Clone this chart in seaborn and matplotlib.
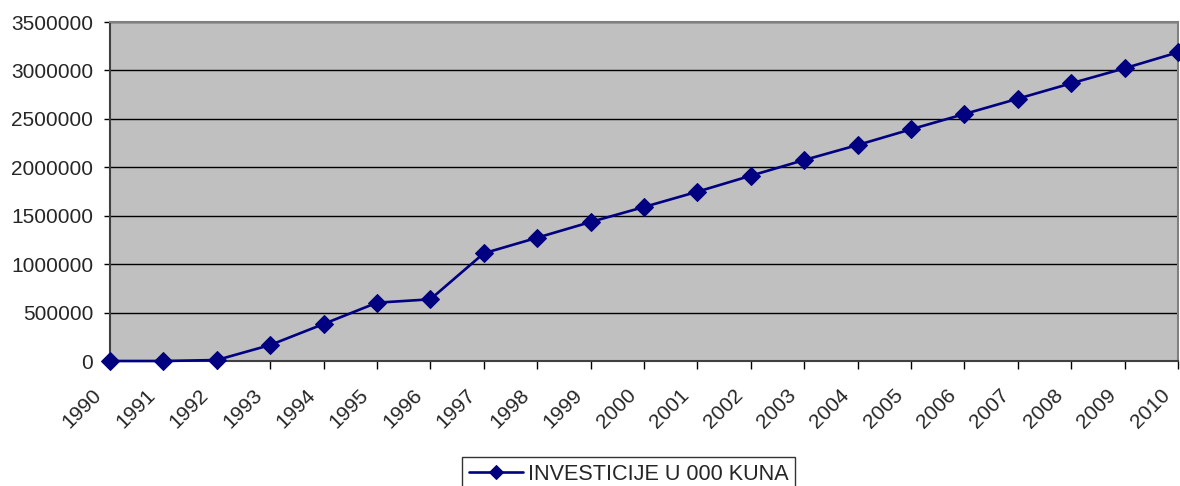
import numpy as np
import pandas as pd
import matplotlib
matplotlib.use("Agg")
import matplotlib.pyplot as plt
from matplotlib.transforms import ScaledTranslation
import seaborn as sns

# DATA
years = [str(y) for y in range(1990, 2011)]
investicije = [
    0, 0, 10000, 165000, 382000, 602000, 637000, 1112000, 1273000, 1435000,
    1590000, 1748000, 1913000, 2075000, 2230000, 2392000, 2550000, 2708000,
    2867000, 3022000, 3187000,
]
series_name = "INVESTICIJE U 000 KUNA"
y_ticks = [0, 500000, 1000000, 1500000, 2000000, 2500000, 3000000, 3500000]

df = pd.DataFrame({"godina": years, "vrijednost": investicije})
df["pos"] = np.arange(len(years))

sns.set_theme(style="white")
plt.rcParams["font.family"] = ["Liberation Sans", "DejaVu Sans"]

fig = plt.figure(figsize=(11.8, 4.86), dpi=100)
ax = fig.add_axes([0.0932, 0.2572, 0.9051, 0.6975])

sns.lineplot(
    data=df, x="pos", y="vrijednost", ax=ax,
    color="#000080", linewidth=1.9, marker="D", markersize=9,
    markeredgecolor="#000080", label=series_name, clip_on=False, zorder=5,
)

ax.set_facecolor("#C0C0C0")
ax.set_xlim(0, len(years) - 1)
ax.set_ylim(0, 3500000)
ax.set_yticks(y_ticks)
ax.set_yticklabels([str(v) for v in y_ticks], fontsize=15)
ax.set_xticks(df["pos"])
ax.set_xticklabels(years, rotation=45, ha="right", rotation_mode="anchor", fontsize=15)
ax.set_xlabel("")
ax.set_ylabel("")

ax.yaxis.grid(True, color="black", linewidth=1)
ax.set_axisbelow(True)
ax.tick_params(axis="y", direction="out", length=4.5, width=1, color="black", left=True, pad=7.5)
ax.tick_params(axis="x", direction="out", length=6, width=1, color="black", bottom=True, pad=11.5)

# x labels sit left of their ticks in the original
shift = ScaledTranslation(-18 / 100, 0, fig.dpi_scale_trans)
for lbl in ax.get_xticklabels():
    lbl.set_transform(lbl.get_transform() + shift)

for side in ["top", "right"]:
    ax.spines[side].set_color("#808080")
    ax.spines[side].set_linewidth(1.5)
for side in ["left", "bottom"]:
    ax.spines[side].set_color("#404040")
    ax.spines[side].set_linewidth(1.5)

ax.get_legend().remove()
handles, labels = ax.get_legend_handles_labels()
leg = fig.legend(
    handles, labels, loc="upper left", bbox_to_anchor=(462 / 1180, 1 - 457 / 486),
    bbox_transform=fig.transFigure, frameon=True, fancybox=False, fontsize=15.6,
    handlelength=2.5, borderpad=0.3, handletextpad=0.25, borderaxespad=0,
)
leg.get_frame().set_edgecolor("black")
leg.get_frame().set_linewidth(1)
for h in leg.legend_handles:
    h.set_markersize(7)

fig.savefig("out.png", dpi=100)
